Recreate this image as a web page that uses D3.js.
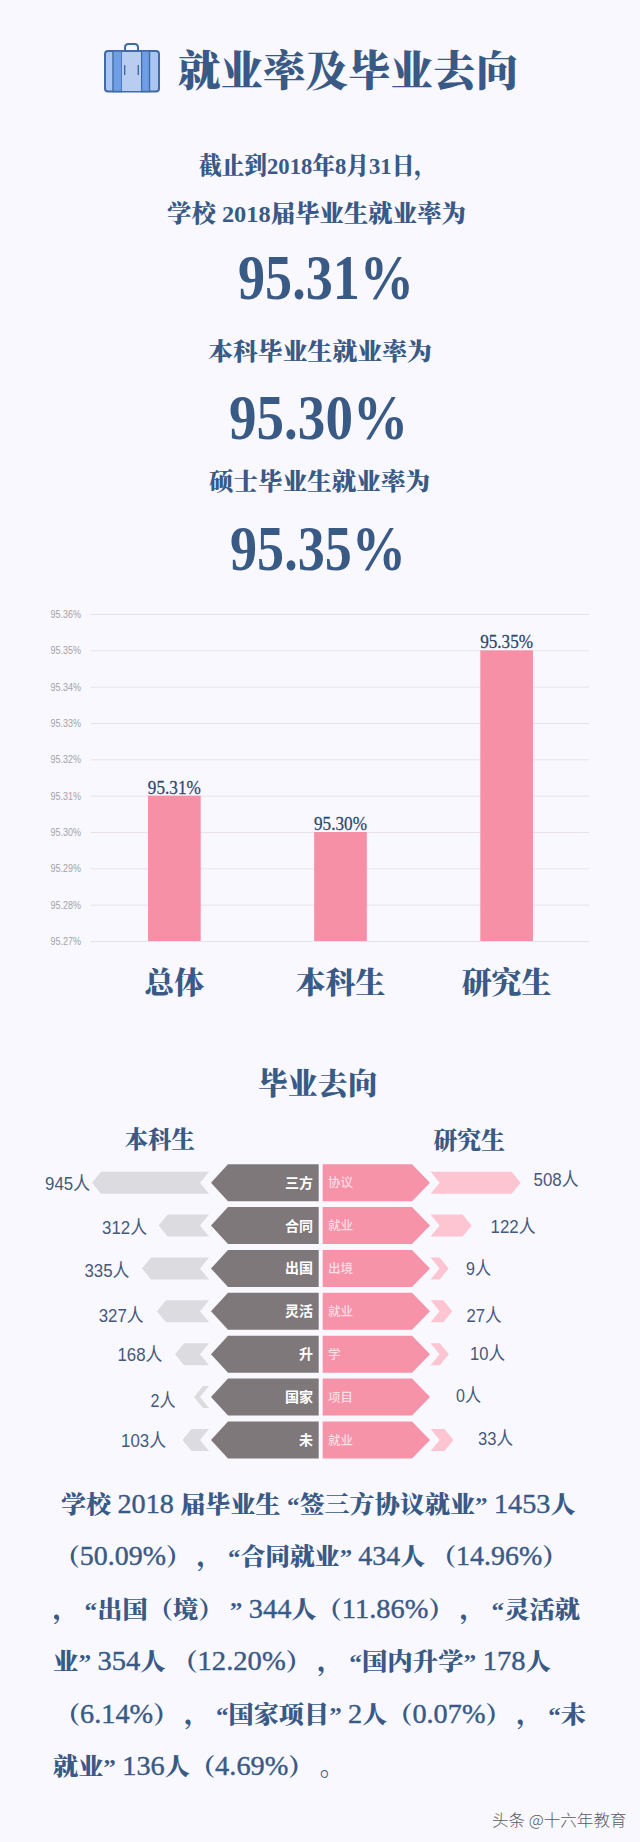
<!DOCTYPE html>
<html><head><meta charset="utf-8">
<script src="https://cdn.jsdelivr.net/npm/d3@7"></script>
<style>html,body{margin:0;padding:0;background:#f8f8fe}svg{display:block}</style>
</head><body><svg id="c" width="640" height="1842"></svg>
<script>
// ---------- data ----------
const categories = ["总体", "本科生", "研究生"];
const rates = [95.31, 95.30, 95.35];
const rateTicks = [95.27, 95.28, 95.29, 95.30, 95.31, 95.32, 95.33, 95.34, 95.35, 95.36];
const destLeftNames = ["三方", "合同", "出国", "灵活", "升", "国家", "未"];
const destRightNames = ["协议", "就业", "出境", "就业", "学", "项目", "就业"];
const undergrad = [945, 312, 335, 327, 168, 2, 103];
const postgrad = [508, 122, 9, 27, 10, 0, 33];
const paragraphLines = [
  "学校 2018 届毕业生 “签三方协议就业” 1453人",
  "（50.09%） ， “合同就业” 434人 （14.96%）",
  "， “出国（境） ” 344人（11.86%） ， “灵活就",
  "业” 354人 （12.20%） ， “国内升学” 178人",
  "（6.14%） ， “国家项目” 2人（0.07%） ， “未",
  "就业” 136人（4.69%） 。"
];
// ---------- layout ----------
const paragraphExtents = [[61,575.5],[55,567],[53,580],[53,551],[55,586],[53,345]];
const paragraphCenters = [1504.3,1556.7,1609,1661.7,1714.3,1766];
const leftLabelEnd = [90,147,129.4,143.7,162.4,175.5,166];
const leftLabelDy = [1,1.4,2.3,4,0,3.4,0.7];
const rightLabelStart = [533.5,490.6,466,466.5,470,456,478];
const rightLabelDy = [-3.7,0.4,0,4,-0.6,-1.3,-1.3];

const NAVY = "#3a5a86", SERIF = "'Liberation Serif','Noto Serif CJK SC','Noto Sans CJK SC',serif";
const SANS = "'Liberation Sans','Noto Sans CJK SC',sans-serif";
const svg = d3.select("#c");
svg.append("rect").attr("width",640).attr("height",1842).attr("fill","#f8f8fe");

function fit(x1, x2, cy, str, o={}) {
  const size = o.size || 24;
  return svg.append("text").attr("x",x1).attr("y",cy + size*(o.rise||0.36))
    .attr("textLength",x2-x1).attr("lengthAdjust",o.adjust||"spacingAndGlyphs")
    .attr("font-family",o.family||SERIF).attr("font-size",size)
    .attr("font-weight",o.weight||900).attr("fill",o.fill||NAVY).text(str);
}

// ---------- header icon ----------
const ic = svg.append("g");
ic.append("path").attr("d","M125 51V47.5Q125 44 128.5 44H134.5Q138 44 138 47.5V51")
  .attr("fill","none").attr("stroke","#3f6ca6").attr("stroke-width",2);
ic.append("rect").attr("x",105).attr("y",51).attr("width",54).attr("height",40.5).attr("rx",3)
  .attr("fill","#a9c5f2").attr("stroke","#3f6ca6").attr("stroke-width",2);
[[113,9],[141.5,8]].forEach(d=>{
  ic.append("rect").attr("x",d[0]).attr("y",51).attr("width",d[1]).attr("height",40.5)
    .attr("fill","#6f9de6").attr("stroke","#3f6ca6").attr("stroke-width",1.4);
});
ic.append("rect").attr("x",122).attr("y",52).attr("width",19).attr("height",39).attr("fill","#b9cdf1");
[124.7,138.3].forEach(x=>ic.append("line").attr("x1",x).attr("x2",x).attr("y1",65).attr("y2",75)
  .attr("stroke","#3f6ca6").attr("stroke-width",1.4));

// ---------- headline text ----------
fit(178,518,70.8,"就业率及毕业去向",{size:42});
fit(199,437,165.7,"截止到2018年8月31日，",{size:24});
fit(167,466,213,"学校 2018届毕业生就业率为",{size:24});
fit(208,432,351,"本科毕业生就业率为",{size:24});
fit(209,430,481,"硕士毕业生就业率为",{size:24});
const big = s => s.toFixed(2)+"%";
[[238,414,298.5,0],[229,408,439,1],[230,406,570,2]].forEach(a=>{
  svg.append("text").attr("x",a[0]).attr("y",a[2]).attr("textLength",a[1]-a[0])
    .attr("lengthAdjust","spacingAndGlyphs").attr("font-family",SERIF).attr("font-size",64)
    .attr("font-weight",700).attr("fill",NAVY).text(big(rates[a[3]]));
});

// ---------- bar chart ----------
const x = d3.scaleBand().domain(categories).range([91.3,589.7]).paddingInner(0.683).paddingOuter(0.3415);
const y = d3.scaleLinear().domain([95.27,95.36]).range([941,614]);
const yAxis = d3.axisLeft(y).tickValues(rateTicks).tickFormat(d=>d.toFixed(2)+"%")
  .tickSize(-(589-90.6)).tickPadding(9.6);
const ga = svg.append("g").attr("transform","translate(90.6,0)").call(yAxis);
ga.select(".domain").remove();
ga.selectAll("line").attr("stroke","#e9e2ee").attr("stroke-width",1);
ga.selectAll("text").attr("font-family",SANS).attr("font-size",10.5).attr("fill","#a3a3ab")
  .attr("textLength",30.4).attr("lengthAdjust","spacingAndGlyphs");
svg.append("g").selectAll("rect").data(rates).join("rect")
  .attr("x",(d,i)=>x(categories[i])).attr("width",x.bandwidth())
  .attr("y",d=>y(d)).attr("height",d=>y(95.27)-y(d)).attr("fill","#f590a6");
svg.append("g").selectAll("text").data(rates).join("text")
  .attr("x",(d,i)=>x(categories[i])+x.bandwidth()/2-26.5).attr("y",d=>y(d)-2)
  .attr("textLength",53).attr("lengthAdjust","spacingAndGlyphs")
  .attr("font-family",SERIF).attr("font-size",19.5).attr("fill","#2f4a6c")
  .attr("stroke","#2f4a6c").attr("stroke-width",0.3).text(d=>big(d));
svg.append("g").selectAll("text").data(categories).join("text")
  .attr("x",d=>x(d)+x.bandwidth()/2).attr("y",992.5).attr("text-anchor","middle")
  .attr("font-family",SERIF).attr("font-size",30).attr("font-weight",900).attr("fill",NAVY).text(d=>d);

// ---------- graduate destinations ----------
fit(258,377.5,1083,"毕业去向",{size:30});
fit(124.5,195,1140,"本科生",{size:23.5});
fit(433.5,505,1141,"研究生",{size:23.5});

const rows = d3.scalePoint().domain(d3.range(destLeftNames.length)).range([1182.7,1440]);
const leftLen = d3.scaleLinear().domain([2,327,335,945]).range([15,52,67,117]);
const rightLen = d3.scaleLinear().domain([9,122,508]).range([18,41,90]);
const line = d3.line();
const H = 18.5, h = 11;
const g = svg.append("g");
destLeftNames.forEach((nm,i)=>{
  const c = rows(i);
  g.append("path").attr("d",line([[318.7,c-H],[228,c-H],[211,c],[228,c+H],[318.7,c+H]])+"Z").attr("fill","#7e787b");
  g.append("path").attr("d",line([[322.7,c-H],[412,c-H],[430,c],[412,c+H],[322.7,c+H]])+"Z").attr("fill","#f693a8");
  g.append("text").attr("x",313).attr("y",c+5).attr("text-anchor","end").attr("font-family",SANS)
    .attr("font-size",14).attr("font-weight",700).attr("fill","#fff").text(nm);
  g.append("text").attr("x",328).attr("y",c+4.5).attr("font-family",SANS)
    .attr("font-size",12.5).attr("font-weight",500).attr("fill","#fbdde4").text(destRightNames[i]);
  const e = 209, tip = e - leftLen(undergrad[i]);
  g.append("path").attr("d",line([[e,c-h],[tip+9,c-h],[tip,c],[tip+9,c+h],[e,c+h],[e-9,c]])+"Z").attr("fill","#dcdbdf");
  const lTxt = undergrad[i]+"人", lw = String(undergrad[i]).length*10+15;
  fit(leftLabelEnd[i]-lw,leftLabelEnd[i],c+leftLabelDy[i],lTxt,{size:18.5,weight:400,family:SANS,fill:"#46597a"});
  if (postgrad[i] > 0) {
    const s = 430.6, rt = s + rightLen(postgrad[i]);
    g.append("path").attr("d",line([[s,c-h],[rt-9,c-h],[rt,c],[rt-9,c+h],[s,c+h],[s+9,c]])+"Z").attr("fill","#fcc5d1");
  }
  const rTxt = postgrad[i]+"人", rw = String(postgrad[i]).length*10+15;
  fit(rightLabelStart[i],rightLabelStart[i]+rw,c+rightLabelDy[i],rTxt,{size:18.5,weight:400,family:SANS,fill:"#46597a"});
});

// ---------- paragraph: Latin runs set slightly larger and lighter than the CJK runs ----------
paragraphLines.forEach((s,i)=>{
  const t = fit(paragraphExtents[i][0],paragraphExtents[i][1],paragraphCenters[i],"",{size:24}).attr("xml:space","preserve").style("white-space","pre");
  s.split(/([0-9.%]+)/).filter(r=>r).forEach(r=>{
    const latin = /^[0-9.%]+$/.test(r);
    t.append("tspan").attr("font-size",latin?27:24).attr("font-weight",latin?400:900)
      .attr("stroke",latin?NAVY:"none").attr("stroke-width",latin?0.4:0).text(r);
  });
});

// ---------- watermark ----------
fit(492,626.5,1820,"头条 @十六年教育",{size:16,weight:300,family:"'Noto Sans CJK SC',sans-serif",fill:"#5a5a62"});
</script></body></html>
